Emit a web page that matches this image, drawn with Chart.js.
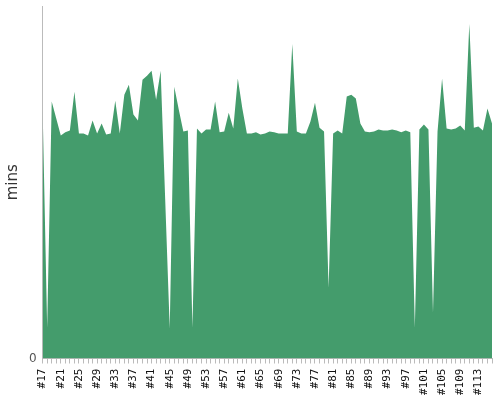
<!DOCTYPE html>
<html>
<head>
<meta charset="utf-8">
<script src="https://cdn.jsdelivr.net/npm/chart.js@4/dist/chart.umd.min.js"></script>
<style>
  html, body { margin: 0; padding: 0; background: #fff; }
  #wrap { position: relative; width: 500px; height: 400px; }
</style>
</head>
<body>
<div id="wrap"><canvas id="chart"></canvas></div>
<script>
'use strict';

// run numbers, #17 .. #116
var firstRun = 17;
var runLabels = [];
for (var n = 0; n < 100; n++) {
  runLabels.push('#' + (firstRun + n));
}

// minutes per run
var minutes = [
  84.7, 10.5, 87.5, 81.7, 75.9, 77.0, 77.6, 90.8, 76.6, 76.6,
  75.9, 81.0, 76.6, 80.0, 76.3, 76.6, 87.8, 76.6, 89.8, 93.2,
  83.1, 81.0, 94.9, 96.3, 98.0, 88.1, 98.0, 54.2, 10.2, 92.5,
  84.7, 77.3, 77.6, 10.5, 78.3, 76.6, 78.0, 78.0, 87.5, 77.0,
  77.3, 83.7, 78.3, 95.3, 85.1, 76.6, 76.6, 77.0, 76.3, 76.6,
  77.3, 77.0, 76.6, 76.6, 76.6, 107.1, 77.3, 76.6, 76.6, 80.7,
  87.1, 78.6, 77.3, 24.1, 76.6, 77.6, 76.6, 89.2, 89.8, 88.5,
  80.0, 77.3, 77.0, 77.3, 78.0, 77.6, 77.6, 78.0, 77.6, 77.0,
  77.6, 77.0, 10.5, 78.0, 79.7, 78.0, 15.6, 77.3, 95.3, 78.3,
  78.0, 78.3, 79.3, 77.6, 113.9, 78.6, 79.0, 77.6, 85.1, 80.0
];

// y axis range, only the zero tick is shown
var yMin = 0;
var yMax = 120;
var yTicks = [0];

// every 4th run gets a label
var labelEvery = 4;

var ctx = document.getElementById('chart').getContext('2d');

var chart = new Chart(ctx, {
  type: 'line',
  data: {
    labels: runLabels,
    datasets: [{
      label: 'mins',
      data: minutes,
      fill: 'origin',
      backgroundColor: '#449c6c',
      borderWidth: 0,
      borderColor: 'rgba(0,0,0,0)',
      pointRadius: 0,
      pointHoverRadius: 0,
      tension: 0
    }]
  },
  options: {
    responsive: true,
    maintainAspectRatio: false,
    animation: false,
    layout: {
      padding: { top: 4, right: 8, bottom: 0, left: 4 }
    },
    plugins: {
      legend: { display: false },
      tooltip: { enabled: false }
    },
    scales: {
      x: {
        offset: false,
        grid: {
          display: true,
          drawOnChartArea: false,
          drawTicks: true,
          tickLength: 5,
          color: '#bbb'
        },
        border: { display: true, color: '#bbb' },
        ticks: {
          autoSkip: false,
          minRotation: 90,
          maxRotation: 90,
          padding: 5,
          color: '#111',
          // tiny line height keeps the rotated labels from eating the right margin
          font: { family: 'DejaVu Sans Mono', size: 11, lineHeight: 0.01 },
          callback: function (value, index) {
            return index % labelEvery === 0 ? this.getLabelForValue(value) : '';
          }
        }
      },
      y: {
        min: yMin,
        max: yMax,
        afterBuildTicks: function (axis) {
          axis.ticks = yTicks.map(function (v) { return { value: v }; });
        },
        grid: { display: false, drawTicks: false },
        border: { display: true, color: '#bbb' },
        ticks: {
          padding: 6,
          color: '#555',
          font: { family: 'DejaVu Sans', size: 12, lineHeight: 0.01 }
        },
        title: {
          display: true,
          text: 'mins',
          color: '#333',
          padding: { top: 0, bottom: 1 },
          font: { family: 'DejaVu Sans', size: 15 }
        }
      }
    }
  }
});
</script>
</body>
</html>
